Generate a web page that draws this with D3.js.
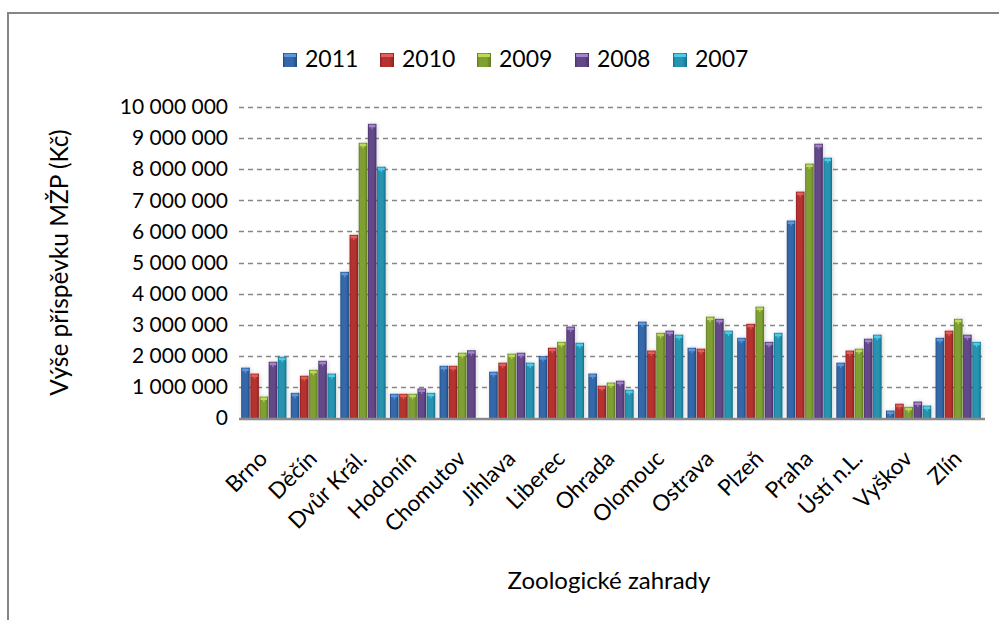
<!DOCTYPE html>
<html>
<head>
<meta charset="utf-8">
<script src="https://cdn.jsdelivr.net/npm/d3@7"></script>
<style>
  body { margin: 0; background: #fff; overflow: hidden; }
  text { font-family: Lato, "Noto Sans", sans-serif; fill: #000; }
</style>
</head>
<body>
<div id="chart"></div>
<script>
// Data
const zoos = ["Brno", "Děčín", "Dvůr Král.", "Hodonín", "Chomutov", "Jihlava", "Liberec", "Ohrada",
  "Olomouc", "Ostrava", "Plzeň", "Praha", "Ústí n.L.", "Vyškov", "Zlín"];
const years = ["2011", "2010", "2009", "2008", "2007"];
const v2011 = [1620000, 810000, 4700000, 780000, 1680000, 1490000, 1990000, 1430000, 3100000, 2260000, 2580000, 6350000, 1780000, 240000, 2580000];
const v2010 = [1430000, 1360000, 5890000, 780000, 1680000, 1780000, 2260000, 1040000, 2170000, 2230000, 3030000, 7280000, 2170000, 460000, 2810000];
const v2009 = [690000, 1550000, 8850000, 780000, 2100000, 2070000, 2450000, 1140000, 2740000, 3260000, 3580000, 8180000, 2230000, 360000, 3190000];
const v2008 = [1810000, 1840000, 9460000, 950000, 2180000, 2100000, 2940000, 1200000, 2810000, 3190000, 2450000, 8820000, 2550000, 530000, 2680000];
const v2007 = [1970000, 1430000, 8080000, 810000, null, 1780000, 2420000, 910000, 2680000, 2810000, 2740000, 8370000, 2680000, 400000, 2450000];
const yTicks = [0, 1000000, 2000000, 3000000, 4000000, 5000000, 6000000, 7000000, 8000000, 9000000, 10000000];

const seriesValues = [v2011, v2010, v2009, v2008, v2007];
// dark edge, body, light cap
const palette = [
  ["#1f4a80", "#3468ab", "#5d97dc"],
  ["#8a2220", "#b5322e", "#e2605a"],
  ["#5d7a1f", "#7f9f32", "#bcd95c"],
  ["#47316a", "#634888", "#a283cc"],
  ["#176f87", "#2593b1", "#4fcbea"]
];

const W = 999, H = 620;
const plot = { left: 239, right: 983, top: 107, bottom: 418 };

const svg = d3.select("#chart").append("svg").attr("width", W).attr("height", H);
const defs = svg.append("defs");

palette.forEach((c, i) => {
  const g = defs.append("linearGradient").attr("id", "grad" + i)
    .attr("x1", "0%").attr("x2", "100%").attr("y1", "0%").attr("y2", "0%");
  g.append("stop").attr("offset", "0%").attr("stop-color", c[0]);
  g.append("stop").attr("offset", "18%").attr("stop-color", c[1]);
  g.append("stop").attr("offset", "70%").attr("stop-color", c[1]);
  g.append("stop").attr("offset", "100%").attr("stop-color", c[0]);
});

const shadow = defs.append("filter").attr("id", "shadow")
  .attr("x", "-50%").attr("y", "-10%").attr("width", "200%").attr("height", "120%");
shadow.append("feGaussianBlur").attr("in", "SourceAlpha").attr("stdDeviation", 2).attr("result", "b");
shadow.append("feOffset").attr("in", "b").attr("dx", 1).attr("dy", 0).attr("result", "o");
shadow.append("feComponentTransfer").attr("in", "o").attr("result", "s")
  .append("feFuncA").attr("type", "linear").attr("slope", 0.18);
const merge = shadow.append("feMerge");
merge.append("feMergeNode").attr("in", "s");
merge.append("feMergeNode").attr("in", "SourceGraphic");

// chart border (only top and left edges fall inside the picture)
svg.append("path").attr("d", `M8,${H} V13 H${W}`)
  .attr("fill", "none").attr("stroke", "#868686").attr("stroke-width", 2);

// Scales
const x = d3.scaleBand().domain(zoos).range([plot.left, plot.right])
  .paddingInner(0.075).paddingOuter(0.0375);
const xs = d3.scaleBand().domain(years).range([0, x.bandwidth()]);
const y = d3.scaleLinear().domain([0, 10000000]).range([plot.bottom, plot.top]);

const fmt = d3.formatLocale({ decimal: ",", thousands: " ", grouping: [3], currency: ["", " Kč"] }).format(",d");

// Gridlines
svg.append("g").selectAll("line").data(yTicks.slice(1)).join("line")
  .attr("x1", plot.left).attr("x2", plot.right)
  .attr("y1", d => Math.round(y(d)) + 0.5).attr("y2", d => Math.round(y(d)) + 0.5)
  .attr("stroke", "#878787").attr("stroke-width", 1.5).attr("stroke-dasharray", "5,4");

// Y axis labels
const yAxis = d3.axisLeft(y).tickValues(yTicks).tickFormat(fmt).tickSize(0).tickPadding(0);
svg.append("g").attr("transform", `translate(228,0)`).call(yAxis)
  .call(g => g.select(".domain").remove())
  .selectAll("text").attr("font-size", 21).attr("font-family", "Lato").attr("fill", "#000");

// Bars
const groups = svg.append("g").selectAll("g").data(seriesValues).join("g")
  .attr("filter", "url(#shadow)");
groups.each(function (vals, si) {
  const pts = zoos.map((z, i) => ({ zoo: z, v: vals[i] })).filter(d => d.v != null);
  const g = d3.select(this);
  const bx = d => x(d.zoo) + xs(years[si]) + 0.3;
  const bw = xs.bandwidth() - 0.6;
  g.selectAll("rect.bar").data(pts).join("rect").attr("class", "bar")
    .attr("x", bx).attr("width", bw)
    .attr("y", d => y(d.v)).attr("height", d => plot.bottom - y(d.v))
    .attr("fill", `url(#grad${si})`);
  g.selectAll("rect.cap").data(pts).join("rect").attr("class", "cap")
    .attr("x", d => bx(d) + 1).attr("width", bw - 2)
    .attr("y", d => y(d.v) + 1).attr("height", 2.5)
    .attr("fill", palette[si][2]);
  g.selectAll("rect.stem").data(pts).join("rect").attr("class", "stem")
    .attr("x", d => bx(d) + bw / 2 - 0.7).attr("width", 1.4)
    .attr("y", d => y(d.v) + 3).attr("height", 2.5)
    .attr("fill", palette[si][2]).attr("opacity", 0.8);
});

// X axis baseline
svg.append("line").attr("x1", plot.left).attr("x2", plot.right + 2)
  .attr("y1", plot.bottom + 1).attr("y2", plot.bottom + 1)
  .attr("stroke", "#8a8a8a").attr("stroke-width", 2.5);

// X labels
svg.append("g").selectAll("text").data(zoos).join("text")
  .attr("text-anchor", "end").attr("font-size", 22.5)
  .attr("transform", d => `translate(${x(d) + x.bandwidth() / 2 + 5},460) rotate(-45)`)
  .text(d => d);

// Axis titles
svg.append("text").attr("text-anchor", "middle").attr("font-size", 24.5)
  .attr("transform", `translate(68,${(plot.top + plot.bottom) / 2}) rotate(-90)`)
  .text("Výše příspěvku MŽP (Kč)");
svg.append("text").attr("text-anchor", "middle").attr("font-size", 24)
  .attr("x", 609).attr("y", 589).text("Zoologické zahrady");

// Legend
const legendX = [283, 380, 477, 575, 673];
const legend = svg.append("g").selectAll("g").data(years).join("g")
  .attr("transform", (d, i) => `translate(${legendX[i]},53)`);
legend.append("rect").attr("width", 14).attr("height", 14)
  .attr("fill", (d, i) => `url(#grad${i})`);
legend.append("rect").attr("x", 1).attr("y", 1).attr("width", 12).attr("height", 3)
  .attr("fill", (d, i) => palette[i][2]);
legend.append("text").attr("x", 22).attr("y", 14).attr("font-size", 23).text(d => d);
</script>
</body>
</html>
